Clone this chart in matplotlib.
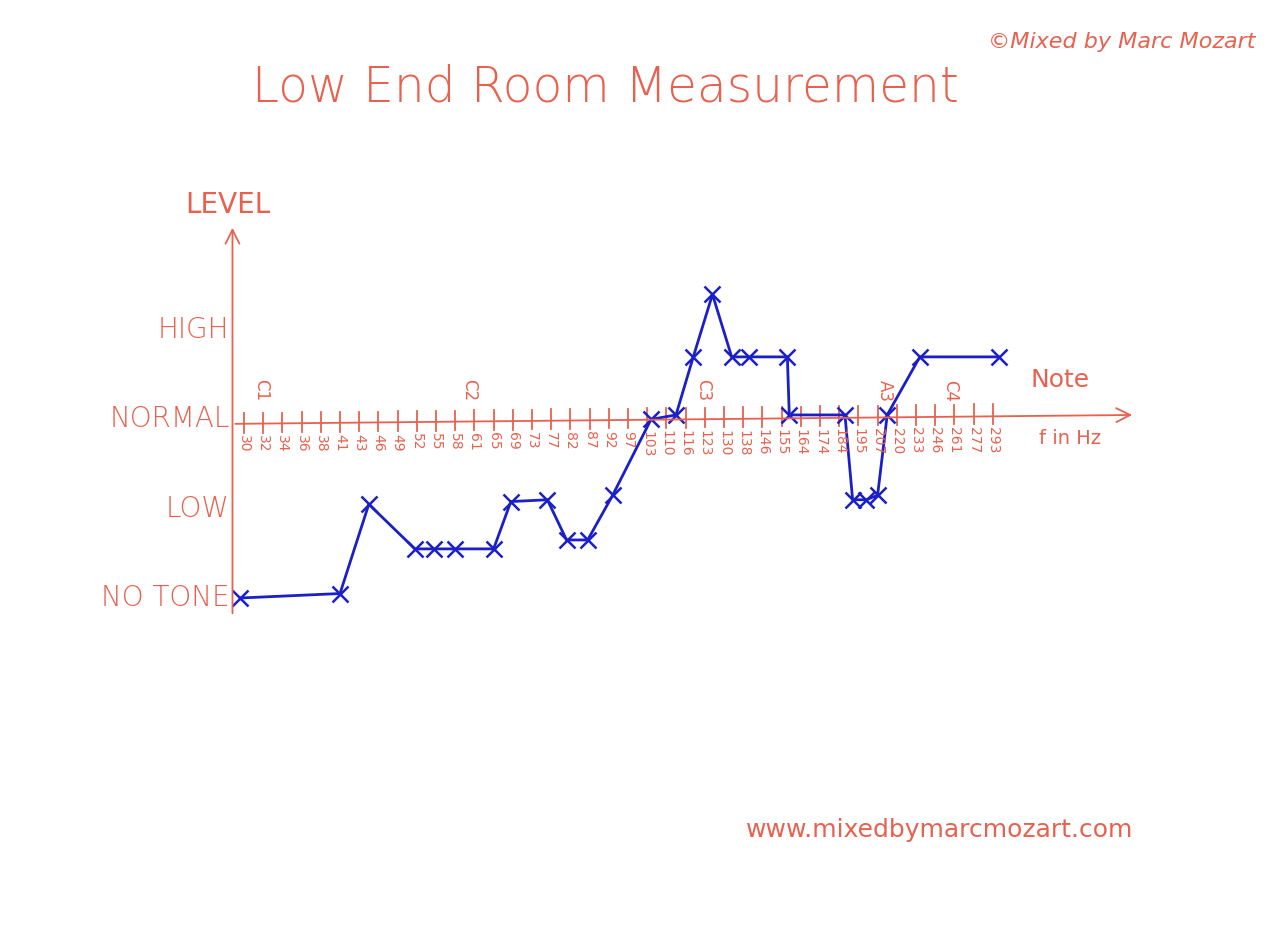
import matplotlib.pyplot as plt

RED = '#e8614f'
BLUE = '#1a1fc8'

# semitone frequencies along the x axis
freq_labels = ['30', '32', '34', '36', '38', '41', '43', '46', '49', '52', '55', '58', '61', '65',
               '69', '73', '77', '82', '87', '92', '97', '103', '110', '116', '123', '130', '138',
               '146', '155', '164', '174', '184', '195', '207', '220', '233', '246', '261', '277', '293']
note_names = ['C1', 'C2', 'C3', 'A3', 'C4']
note_pos = [0.9, 11.7, 23.9, 33.4, 36.8]
level_names = ['NO TONE', 'LOW', 'NORMAL', 'HIGH']

# measured points (x = semitone index, y = level 0..3)
meas_x = [-0.2, 5.0, 6.5, 8.9, 9.9, 11.0, 13.0, 13.9, 15.8, 16.8, 17.9, 19.2, 21.2, 22.5,
          23.4, 24.4, 25.4, 26.3, 28.3, 28.4, 31.3, 31.7, 32.4, 33.0, 33.5, 35.2, 39.3]
meas_y = [0.0, 0.05, 1.05, 0.55, 0.55, 0.55, 0.55, 1.08, 1.1, 0.65, 0.65, 1.15, 2.0, 2.05,
          2.7, 3.4, 2.7, 2.7, 2.7, 2.05, 2.05, 1.1, 1.1, 1.15, 2.05, 2.7, 2.7]

W, H = 1280, 926
fig = plt.figure(figsize=(12.8, 9.26), dpi=100)
fig.patch.set_facecolor('white')


def px(x, y):
    return x / W, 1 - y / H


left, right, bottom, top = 232, 1135, 625, 225
ax = fig.add_axes([left / W, 1 - bottom / H, (right - left) / W, (bottom - top) / H])
ax.set_xlim((left - 244) / 19.2, (right - 244) / 19.2)
ax.set_ylim((598 - bottom) / 89.3, (598 - top) / 89.3)
ax.axis('off')

xmin, xmax = ax.get_xlim()
ymin, ymax = ax.get_ylim()
# axes with arrows
ax.annotate('', xy=(xmax, 2.05), xytext=(-0.6, 1.95),
            arrowprops=dict(arrowstyle='->', color=RED, lw=1.3, mutation_scale=25))
ax.annotate('', xy=(-0.6, ymax), xytext=(-0.6, ymin + 0.1),
            arrowprops=dict(arrowstyle='->', color=RED, lw=1.3, mutation_scale=25))

for i, lab in enumerate(freq_labels):
    base = 1.95 + 0.1 * i / 39
    ax.plot([i, i], [base - 0.1, base + 0.12], color=RED, lw=1.3)
    ax.text(i, base - 0.13, lab, color=RED, rotation=-90, ha='center', va='top', fontsize=10)
for n, p in zip(note_names, note_pos):
    ax.text(p, 2.2, n, color=RED, rotation=-90, ha='center', va='bottom', fontsize=12)
for k, name in enumerate(level_names):
    ax.text(-0.75, k, name, color=RED, ha='right', va='center', fontsize=20, fontweight='light')

ax.plot(meas_x, meas_y, color=BLUE, lw=2, marker='x', markersize=11, mew=1.8)

fig.text(*px(605, 88), 'Low End Room Measurement', color=RED, fontsize=35, ha='center',
         va='center', fontweight='light')
fig.text(*px(1122, 42), '©Mixed by Marc Mozart', color=RED, fontsize=16, ha='center',
         va='center', fontstyle='italic')
fig.text(*px(228, 205), 'LEVEL', color=RED, fontsize=20, ha='center', va='center')
fig.text(*px(1060, 380), 'Note', color=RED, fontsize=18, ha='center', va='center')
fig.text(*px(1070, 438), 'f in Hz', color=RED, fontsize=14, ha='center', va='center')
fig.text(*px(940, 830), 'www.mixedbymarcmozart.com', color=RED, fontsize=18, ha='center',
         va='center')

fig.savefig('out.png', dpi=100)
